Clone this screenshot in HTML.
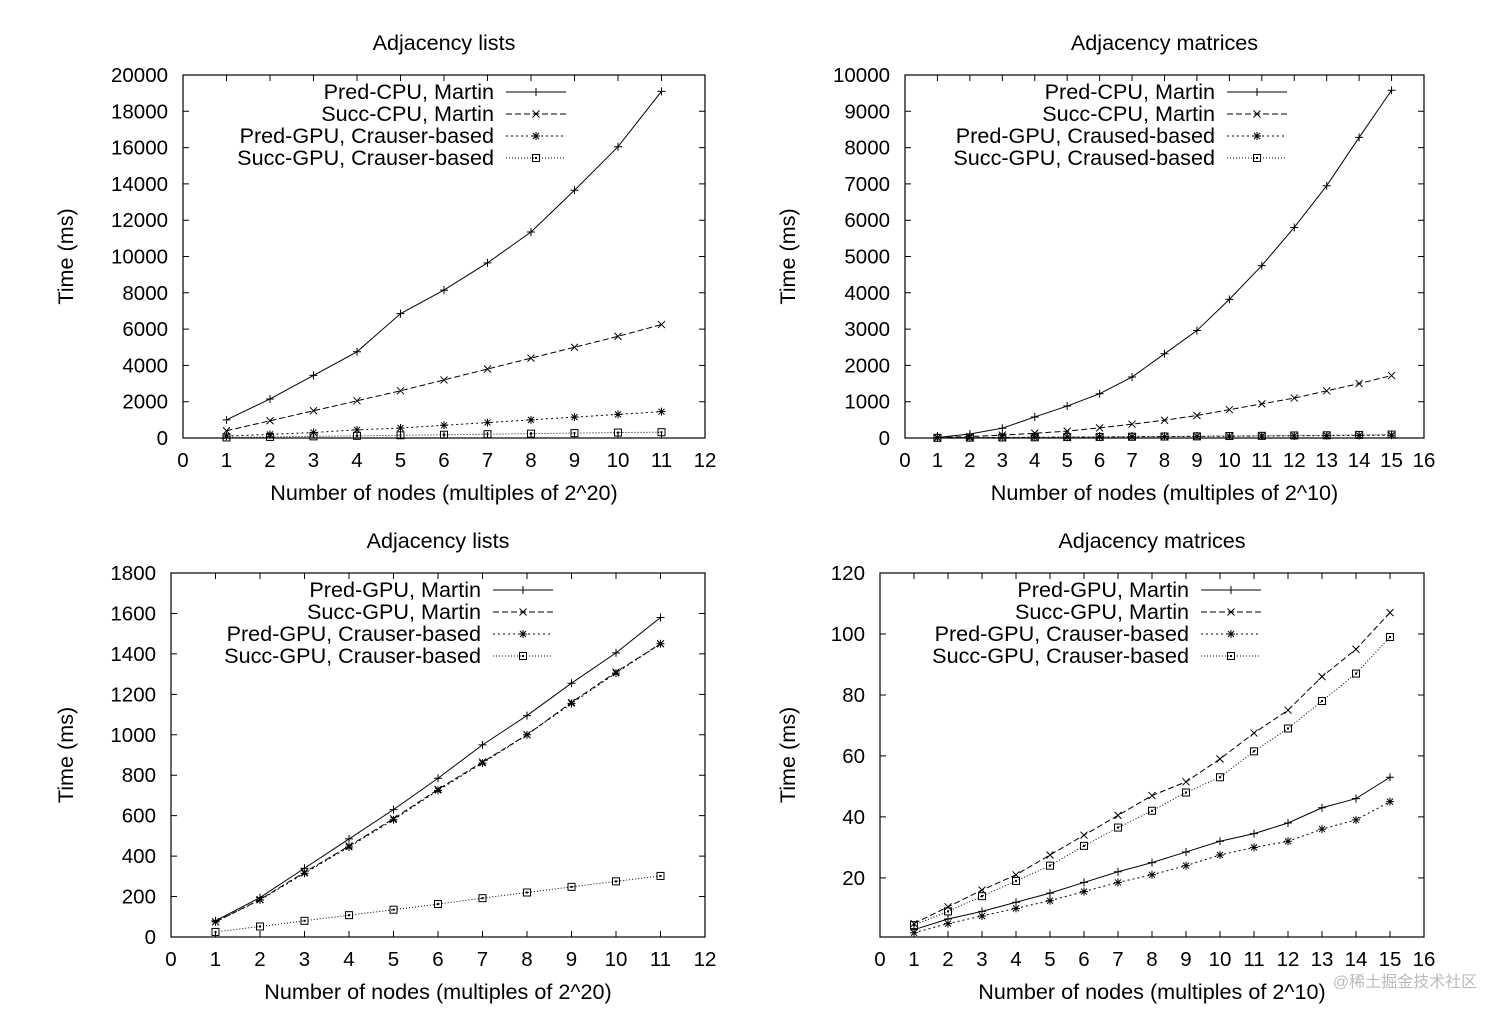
<!DOCTYPE html>
<html><head><meta charset="utf-8"><style>
body{margin:0;background:#fff;}
svg text{font-family:"Liberation Sans",Arial,sans-serif;fill:#000;}
</style></head><body>
<svg id="s" width="1512" height="1016" xmlns="http://www.w3.org/2000/svg">
<text x="1405" y="987" font-size="16" fill="#bbb" style="fill:#bbb" text-anchor="middle" font-family="Liberation Sans, Noto Sans CJK SC, sans-serif">@稀土掘金技术社区</text>
</svg>
<script>
const xs11=[1,2,3,4,5,6,7,8,9,10,11];
const xs15=[1,2,3,4,5,6,7,8,9,10,11,12,13,14,15];
const c1Names=["Pred-CPU, Martin","Succ-CPU, Martin","Pred-GPU, Crauser-based","Succ-GPU, Crauser-based"];
const c1PredCpu=[1000,2150,3450,4750,6850,8150,9650,11350,13650,16050,19100];
const c1SuccCpu=[400,950,1500,2050,2600,3200,3800,4400,5000,5600,6250];
const c1PredGpu=[100,200,300,450,550,700,850,1000,1150,1300,1450];
const c1SuccGpu=[30,60,90,120,150,180,210,240,270,300,320];
const c2Names=["Pred-CPU, Martin","Succ-CPU, Martin","Pred-GPU, Craused-based","Succ-GPU, Craused-based"];
const c2PredCpu=[15,110,270,580,880,1220,1680,2320,2960,3820,4750,5800,6950,8280,9580];
const c2SuccCpu=[10,40,80,130,190,280,380,490,620,780,940,1100,1300,1500,1720];
const c2PredGpu=[5,10,15,20,25,30,35,40,45,50,55,60,65,70,75];
const c2SuccGpu=[5,10,15,20,25,30,35,40,45,55,60,70,75,85,95];
const c3Names=["Pred-GPU, Martin","Succ-GPU, Martin","Pred-GPU, Crauser-based","Succ-GPU, Crauser-based"];
const c3PredM=[80,195,340,485,630,785,950,1095,1255,1405,1580];
const c3SuccM=[75,185,320,450,585,730,865,1000,1160,1310,1450];
const c3PredC=[75,183,315,445,580,725,860,1000,1155,1305,1450];
const c3SuccC=[25,52,80,108,135,163,192,220,248,275,302];
const c4Names=["Pred-GPU, Martin","Succ-GPU, Martin","Pred-GPU, Crauser-based","Succ-GPU, Crauser-based"];
const c4PredM=[3,6.5,9,12,15,18.5,22,25,28.5,32,34.5,38,43,46,53];
const c4SuccM=[5,10.5,16,21,27.5,34,40.5,47,51.5,59,67.5,75,86,95,107];
const c4PredC=[2,5,7.5,10,12.5,15.5,18.5,21,24,27.5,30,32,36,39,45];
const c4SuccC=[4.5,9,14,19,24,30.5,36.5,42,48,53,61.5,69,78,87,99];
const ticks1=[0,2000,4000,6000,8000,10000,12000,14000,16000,18000,20000];
const ticks2=[0,1000,2000,3000,4000,5000,6000,7000,8000,9000,10000];
const ticks3=[0,200,400,600,800,1000,1200,1400,1600,1800];
const ticks4=[20,40,60,80,100,120];

const S=document.getElementById('s');const NS="http://www.w3.org/2000/svg";
function mk(t,a,p){const e=document.createElementNS(NS,t);for(const k in a)e.setAttribute(k,a[k]);(p||S).appendChild(e);return e;}
const dashes=["none","6,3","2,3","1,2"];
function marker(g,k,x,y){
  if(k==0){mk('path',{d:`M${x-4},${y}h8M${x},${y-4}v8`,stroke:'#000','stroke-width':1},g);}
  else if(k==1){mk('path',{d:`M${x-3.5},${y-3.5}l7,7M${x-3.5},${y+3.5}l7,-7`,stroke:'#000','stroke-width':1},g);}
  else if(k==2){mk('path',{d:`M${x-4},${y}h8M${x},${y-4}v8M${x-3},${y-3}l6,6M${x-3},${y+3}l6,-6`,stroke:'#000','stroke-width':1},g);}
  else {mk('rect',{x:x-3.5,y:y-3.5,width:7,height:7,fill:'none',stroke:'#000','stroke-width':1},g);mk('rect',{x:x-1,y:y-1,width:2,height:2,fill:'#000'},g);}
}
function chart(o){
  const g=mk('g',{});
  
  
  const X=v=>o.x0+(o.x1-o.x0)*v/o.xmax, Y=v=>o.y0-(o.y0-o.y1)*(v-o.ymin)/(o.ymax-o.ymin);
  const t=mk('text',{x:(o.x0+o.x1)/2,y:o.y1-25,'font-size':21.6,'text-anchor':'middle'},g);t.textContent=o.title;
  
  
  mk('rect',{x:o.x0,y:o.y1,width:o.x1-o.x0,height:o.y0-o.y1,fill:'none',stroke:'#000','stroke-width':1.2},g);
  for(let i=0;i<=o.xmax;i++){const x=X(i);
    mk('path',{d:`M${x},${o.y0}v-6M${x},${o.y1}v6`,stroke:'#000'},g);
    const l=mk('text',{x:x,y:o.y0+29,'font-size':20.5,'text-anchor':'middle'},g);l.textContent=i;
    
    }
  o.ticks.forEach(v=>{const y=Y(v);
    mk('path',{d:`M${o.x0},${y}h6M${o.x1},${y}h-6`,stroke:'#000'},g);
    const l=mk('text',{x:o.x0-15,y:y+7,'font-size':20.5,'text-anchor':'end'},g);l.textContent=v;
    
    });
  const xl=mk('text',{x:(o.x0+o.x1)/2,y:o.y0+62,'font-size':21.6,'text-anchor':'middle'},g);xl.textContent=o.xlabel;
  
  
  const yl=mk('text',{x:0,y:0,'font-size':21.6,'text-anchor':'middle',transform:`translate(${o.yx},${(o.y0+o.y1)/2}) rotate(-90)`},g);yl.textContent="Time (ms)";
  
  
  o.series.forEach((s,k)=>{
    const sg=mk('g',{},g);
    
    
    const pts=s.map((v,i)=>X(o.xsv[i])+','+Y(v)).join(' ');
    mk('polyline',{points:pts,fill:'none',stroke:'#000','stroke-width':1,'stroke-dasharray':dashes[k]},sg);
    s.forEach((v,i)=>marker(sg,k,X(o.xsv[i]),Y(v)));
    const ly=o.y1+17+22*k;
    const lt=mk('text',{x:o.lx,y:ly+7,'font-size':21.6,'text-anchor':'end'},g);lt.textContent=o.names[k];
    
    
    mk('path',{d:`M${o.lx+12},${ly}h60`,stroke:'#000','stroke-dasharray':dashes[k]},g);
    marker(g,k,o.lx+42,ly);
  });
}
chart({name:'chart-lists-cpu',title:'Adjacency lists',x0:183,x1:705,y0:438,y1:75,xmax:12,ymin:0,ymax:20000,ticks:ticks1,xsv:xs11,names:c1Names,series:[c1PredCpu,c1SuccCpu,c1PredGpu,c1SuccGpu],lx:494,yx:73,xlabel:'Number of nodes (multiples of 2^20)'});
chart({name:'chart-matrices-cpu',title:'Adjacency matrices',x0:905,x1:1424,y0:438,y1:75,xmax:16,ymin:0,ymax:10000,ticks:ticks2,xsv:xs15,names:c2Names,series:[c2PredCpu,c2SuccCpu,c2PredGpu,c2SuccGpu],lx:1215,yx:795,xlabel:'Number of nodes (multiples of 2^10)'});
chart({name:'chart-lists-gpu',title:'Adjacency lists',x0:171,x1:705,y0:937,y1:573,xmax:12,ymin:0,ymax:1800,ticks:ticks3,xsv:xs11,names:c3Names,series:[c3PredM,c3SuccM,c3PredC,c3SuccC],lx:481,yx:73,xlabel:'Number of nodes (multiples of 2^20)'});
chart({name:'chart-matrices-gpu',title:'Adjacency matrices',x0:880,x1:1424,y0:937,y1:573,xmax:16,ymin:0.6,ymax:120,ticks:ticks4,xsv:xs15,names:c4Names,series:[c4PredM,c4SuccM,c4PredC,c4SuccC],lx:1189,yx:795,xlabel:'Number of nodes (multiples of 2^10)'});
</script>
</body></html>
